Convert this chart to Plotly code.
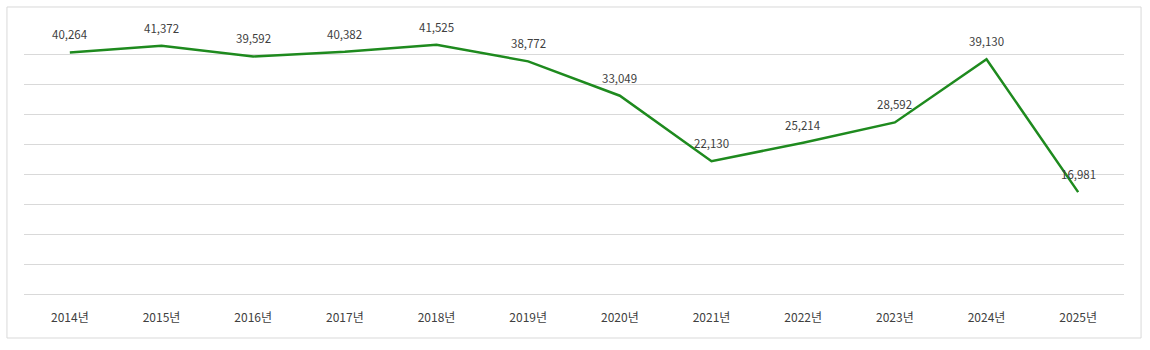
import plotly.graph_objects as go

years = ["2014년", "2015년", "2016년", "2017년", "2018년", "2019년",
         "2020년", "2021년", "2022년", "2023년", "2024년", "2025년"]
values = [40264, 41372, 39592, 40382, 41525, 38772,
          33049, 22130, 25214, 28592, 39130, 16981]
labels = [f"{v:,}" for v in values]

fig = go.Figure()
fig.add_trace(go.Scatter(
    x=years, y=values, mode="lines",
    line=dict(color="#1e8a1e", width=2.5),
    cliponaxis=False, hoverinfo="skip",
))

for x, y, t in zip(years, values, labels):
    fig.add_annotation(x=x, y=y, text=t, showarrow=False,
                       yshift=18, yanchor="middle", xanchor="center",
                       font=dict(family="Noto Sans CJK KR, Noto Sans", size=11.5, color="#404040"))

fig.update_layout(
    width=1150, height=350,
    margin=dict(l=24, r=26, t=24, b=56),
    paper_bgcolor="white", plot_bgcolor="white",
    showlegend=False,
    font=dict(family="Noto Sans CJK KR, Noto Sans", size=11, color="#404040"),
)
fig.update_xaxes(
    type="category", range=[-0.5, len(years) - 0.5],
    showgrid=False, showline=False, zeroline=False, ticks="",
    tickfont=dict(size=12, color="#404040"),
    ticklabelstandoff=15,
)
fig.update_yaxes(
    range=[0, 45000], dtick=5000, showgrid=True, gridcolor="#d9d9d9",
    gridwidth=1, showticklabels=False, zeroline=True, zerolinecolor="#d9d9d9",
    zerolinewidth=1, showline=False,
)
fig.add_shape(type="rect", xref="paper", yref="paper",
              x0=-0.0155, x1=1.0155, y0=-0.163, y1=1.063,
              line=dict(color="#d9d9d9", width=1), fillcolor="rgba(0,0,0,0)",
              layer="below")

fig.write_html("out.html")
